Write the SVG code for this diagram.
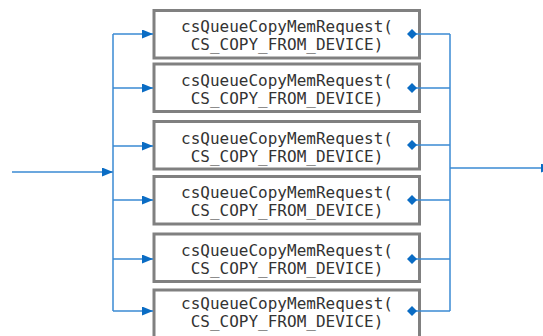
<svg xmlns="http://www.w3.org/2000/svg" width="543" height="336" viewBox="0 0 543 336">
<defs>
<style>
.box{fill:#ffffff;stroke:#808080;stroke-width:3}
.t{font-family:"DejaVu Sans Mono","Liberation Mono",monospace;font-size:16px;fill:#333333;text-anchor:middle}
.ln{fill:none;stroke:#3a8ad3;stroke-width:1.5}
.hd{fill:#0a6cc4}
</style>
<marker id="arr" markerWidth="12" markerHeight="10" refX="11" refY="4.5" orient="auto" markerUnits="userSpaceOnUse">
<path d="M0,0 L11,4.5 L0,9 Z" class="hd"/>
</marker>
<marker id="dia" markerWidth="12" markerHeight="12" refX="5.5" refY="5.5" orient="auto" markerUnits="userSpaceOnUse">
<path d="M0.5,5.5 L5.5,0.5 L10.5,5.5 L5.5,10.5 Z" class="hd"/>
</marker>
</defs>
<rect width="543" height="336" fill="#ffffff"/>
<g id="node1"><rect class="box" x="154" y="10.5" width="265.5" height="47.5"/><text class="t" x="287" y="32">csQueueCopyMemRequest(</text><text class="t" x="287" y="50">CS_COPY_FROM_DEVICE)</text></g>
<g id="node2"><rect class="box" x="154" y="64" width="265.5" height="47.5"/><text class="t" x="287" y="86">csQueueCopyMemRequest(</text><text class="t" x="287" y="104">CS_COPY_FROM_DEVICE)</text></g>
<g id="node3"><rect class="box" x="154" y="121.5" width="265.5" height="47.5"/><text class="t" x="287" y="143.5">csQueueCopyMemRequest(</text><text class="t" x="287" y="161.5">CS_COPY_FROM_DEVICE)</text></g>
<g id="node4"><rect class="box" x="154" y="176.5" width="265.5" height="47.5"/><text class="t" x="287" y="198">csQueueCopyMemRequest(</text><text class="t" x="287" y="216">CS_COPY_FROM_DEVICE)</text></g>
<g id="node5"><rect class="box" x="154" y="234" width="265.5" height="47.5"/><text class="t" x="287" y="256">csQueueCopyMemRequest(</text><text class="t" x="287" y="274">CS_COPY_FROM_DEVICE)</text></g>
<g id="node6"><rect class="box" x="154" y="290" width="265.5" height="47.5"/><text class="t" x="287" y="309">csQueueCopyMemRequest(</text><text class="t" x="287" y="327">CS_COPY_FROM_DEVICE)</text></g>
<g id="connectors">
<line class="ln" x1="12" y1="172" x2="113" y2="172" marker-end="url(#arr)"/>
<line class="ln" x1="113" y1="34" x2="113" y2="311"/>
<line class="ln" x1="113" y1="34" x2="153" y2="34" marker-end="url(#arr)"/>
<line class="ln" x1="113" y1="88" x2="153" y2="88" marker-end="url(#arr)"/>
<line class="ln" x1="113" y1="146" x2="153" y2="146" marker-end="url(#arr)"/>
<line class="ln" x1="113" y1="200" x2="153" y2="200" marker-end="url(#arr)"/>
<line class="ln" x1="113" y1="259" x2="153" y2="259" marker-end="url(#arr)"/>
<line class="ln" x1="113" y1="311" x2="153" y2="311" marker-end="url(#arr)"/>
<line class="ln" x1="412" y1="34" x2="450" y2="34" marker-start="url(#dia)"/>
<line class="ln" x1="412" y1="88" x2="450" y2="88" marker-start="url(#dia)"/>
<line class="ln" x1="412" y1="145" x2="450" y2="145" marker-start="url(#dia)"/>
<line class="ln" x1="412" y1="200" x2="450" y2="200" marker-start="url(#dia)"/>
<line class="ln" x1="412" y1="259" x2="450" y2="259" marker-start="url(#dia)"/>
<line class="ln" x1="412" y1="311" x2="450" y2="311" marker-start="url(#dia)"/>
<line class="ln" x1="450" y1="34" x2="450" y2="311"/>
<line class="ln" x1="450" y1="168" x2="552" y2="168" marker-end="url(#arr)"/>
</g>
</svg>
